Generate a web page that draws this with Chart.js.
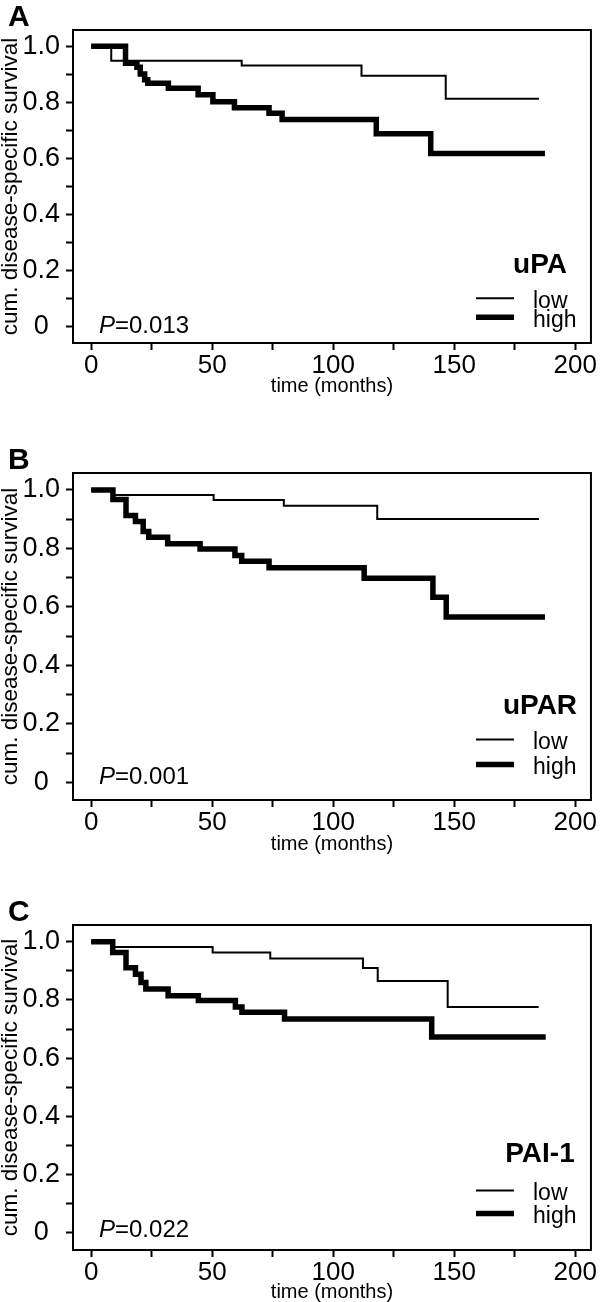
<!DOCTYPE html>
<html>
<head>
<meta charset="utf-8">
<script src="https://cdn.jsdelivr.net/npm/chart.js@4.4.1/dist/chart.umd.min.js"></script>
<style>
  html, body { margin: 0; padding: 0; background: #fff; }
  #page { position: relative; width: 600px; height: 1302px; }
  .panel { position: absolute; left: 0; width: 600px; }
  canvas { display: block; }
</style>
</head>
<body>
<div id="page">
  <div class="panel" style="top:0px"><canvas id="chartA" width="600" height="400"></canvas></div>
  <div class="panel" style="top:440px"><canvas id="chartB" width="600" height="420"></canvas></div>
  <div class="panel" style="top:890px"><canvas id="chartC" width="600" height="412"></canvas></div>
</div>
<script>
// axis ticks
const yTickValues = [0, 0.1, 0.2, 0.3, 0.4, 0.5, 0.6, 0.7, 0.8, 0.9, 1.0];
const yTickLabels = ['0', '', '0.2', '', '0.4', '', '0.6', '', '0.8', '', '1.0'];
const xTickValues = [0, 25, 50, 75, 100, 125, 150, 175, 200];
const xTickLabels = ['0', '', '50', '', '100', '', '150', '', '200'];

const groupLabels = ['low', 'high'];
const markerNames = ['uPA', 'uPAR', 'PAI-1'];
const pValues = ['0.013', '0.001', '0.022'];
const panelLetters = ['A', 'B', 'C'];

// Kaplan-Meier steps (months / cumulative survival)
const uPALowTime = [0, 8.3, 62.2, 111.7, 146.5, 185];
const uPALowSurv = [1, 0.948, 0.931, 0.895, 0.812, 0.812];
const uPAHighTime = [0, 14.2, 18.9, 20.3, 22.1, 23.4, 31.9, 44.2, 50.3, 59.2, 73.5, 78.9, 117.8, 140.3, 187.5];
const uPAHighSurv = [1, 0.939, 0.925, 0.901, 0.88, 0.868, 0.85, 0.827, 0.802, 0.78, 0.761, 0.738, 0.687, 0.617, 0.617];

const uPARLowTime = [0, 9.2, 50.6, 79.6, 118.2, 185];
const uPARLowSurv = [1, 0.983, 0.966, 0.946, 0.901, 0.901];
const uPARHighTime = [0, 9, 14.4, 18.3, 21.5, 23.8, 31.6, 45, 59.4, 62.2, 73.5, 112.8, 141.2, 146.7, 187.5];
const uPARHighSurv = [1, 0.967, 0.913, 0.892, 0.858, 0.838, 0.816, 0.798, 0.776, 0.756, 0.734, 0.698, 0.633, 0.566, 0.566];

const paiLowTime = [0, 8.9, 50.2, 74, 112.3, 118.4, 147.3, 184.9];
const paiLowSurv = [1, 0.982, 0.963, 0.943, 0.91, 0.865, 0.776, 0.776];
const paiHighTime = [0, 8.9, 14.4, 18.3, 20.6, 22.6, 31.8, 44.3, 59.6, 62.3, 79.9, 140.7, 187.8];
const paiHighSurv = [1, 0.963, 0.911, 0.889, 0.86, 0.838, 0.815, 0.798, 0.776, 0.758, 0.735, 0.673, 0.673];

const FONT = '"Liberation Sans", Arial, sans-serif';
const NARROW = '"Liberation Sans Narrow", "Arial Narrow", "Liberation Sans", sans-serif';

// frame, panel letter, p-value and legend
const panelDecor = {
  id: 'panelDecor',
  afterDraw(chart, args, opts) {
    const { ctx, chartArea: a, scales } = chart;
    const y0 = scales.y.getPixelForValue(0);
    ctx.save();
    ctx.strokeStyle = '#000';
    ctx.lineWidth = 2;
    ctx.strokeRect(a.left, a.top, a.right - a.left, a.bottom - a.top);

    ctx.fillStyle = '#000';
    ctx.textAlign = 'left';
    ctx.textBaseline = 'alphabetic';
    ctx.font = 'bold 30px ' + FONT;
    ctx.fillText(opts.letter, 8, a.top - 4);

    // P value
    ctx.textBaseline = 'middle';
    ctx.font = 'italic 24px ' + FONT;
    ctx.fillText('P', 99, y0 + opts.pDy);
    const pw = ctx.measureText('P').width;
    ctx.font = '24px ' + FONT;
    ctx.fillText('=' + opts.p, 99 + pw, y0 + opts.pDy);

    // legend
    ctx.textAlign = 'center';
    ctx.font = 'bold 28px ' + FONT;
    ctx.fillText(opts.marker, 540, y0 + opts.nameDy);
    ctx.textAlign = 'left';
    ctx.font = '23px ' + FONT;
    const rows = [[opts.lowDy, 2], [opts.highDy, 5.5]];
    rows.forEach(([dy, w], i) => {
      ctx.lineWidth = w;
      ctx.beginPath();
      ctx.moveTo(476, y0 + dy);
      ctx.lineTo(514, y0 + dy);
      ctx.stroke();
      ctx.fillText(groupLabels[i], 533, y0 + dy + 3);
    });
    ctx.restore();
  }
};

function toPoints(t, s) {
  return t.map((v, i) => ({ x: v, y: s[i] }));
}

function makeChart(id, idx, lowT, lowS, highT, highS, box, deco) {
  const canvas = document.getElementById(id);
  const H = canvas.height;
  return new Chart(canvas, {
    type: 'line',
    data: {
      datasets: [
        { label: groupLabels[0], data: toPoints(lowT, lowS), borderColor: '#000', borderWidth: 2,
          stepped: true, pointRadius: 0, fill: false, borderJoinStyle: 'miter', borderCapStyle: 'butt' },
        { label: groupLabels[1], data: toPoints(highT, highS), borderColor: '#000', borderWidth: 5.5,
          stepped: true, pointRadius: 0, fill: false, borderJoinStyle: 'miter', borderCapStyle: 'butt' }
      ]
    },
    options: {
      responsive: false,
      animation: false,
      layout: { padding: { top: box.top, right: 3, left: 0, bottom: 0 } },
      plugins: {
        legend: { display: false },
        tooltip: { enabled: false },
        panelDecor: Object.assign({ letter: panelLetters[idx], marker: markerNames[idx], p: pValues[idx] }, deco)
      },
      scales: {
        x: {
          type: 'linear',
          min: -7.5,
          max: 206.5,
          afterBuildTicks: s => { s.ticks = xTickValues.map(v => ({ value: v })); },
          afterFit: s => { s.height = H - box.bottom; },
          ticks: {
            autoSkip: false, maxRotation: 0, color: '#000', padding: 3,
            font: { family: NARROW, size: 26, lineHeight: 1 },
            callback: (v, i) => xTickLabels[i]
          },
          grid: { drawOnChartArea: false, drawTicks: true, tickLength: 7, tickColor: '#000', tickWidth: 2 },
          border: { display: false },
          title: { display: true, text: 'time (months)', color: '#000',
            font: { family: FONT, size: 20, lineHeight: 1 }, padding: { top: 0, bottom: box.titlePad } }
        },
        y: {
          type: 'linear',
          min: -0.06,
          max: 1.058,
          afterBuildTicks: s => { s.ticks = yTickValues.map(v => ({ value: v })); },
          afterFit: s => { s.width = 73; },
          ticks: {
            autoSkip: false, color: '#000', padding: 6, crossAlign: 'center',
            font: { family: FONT, size: 27, lineHeight: 1 },
            callback: (v, i) => yTickLabels[i]
          },
          grid: { drawOnChartArea: false, drawTicks: true, tickLength: 7, tickColor: '#000', tickWidth: 2 },
          border: { display: false },
          title: { display: true, text: 'cum. disease-specific survival', color: '#000',
            font: { family: FONT, size: 22.5, lineHeight: 1 }, padding: 0 }
        }
      }
    },
    plugins: [panelDecor]
  });
}

makeChart('chartA', 0, uPALowTime, uPALowSurv, uPAHighTime, uPAHighSurv,
  { top: 30, bottom: 343, titlePad: 4 },
  { pDy: 0, nameDy: -61, lowDy: -28, highDy: -9 });
makeChart('chartB', 1, uPARLowTime, uPARLowSurv, uPARHighTime, uPARHighSurv,
  { top: 33, bottom: 360, titlePad: 6 },
  { pDy: -5, nameDy: -76, lowDy: -43, highDy: -18 });
makeChart('chartC', 2, paiLowTime, paiLowSurv, paiHighTime, paiHighSurv,
  { top: 35, bottom: 360, titlePad: 0 },
  { pDy: -2, nameDy: -78, lowDy: -42, highDy: -19 });
</script>
</body>
</html>
